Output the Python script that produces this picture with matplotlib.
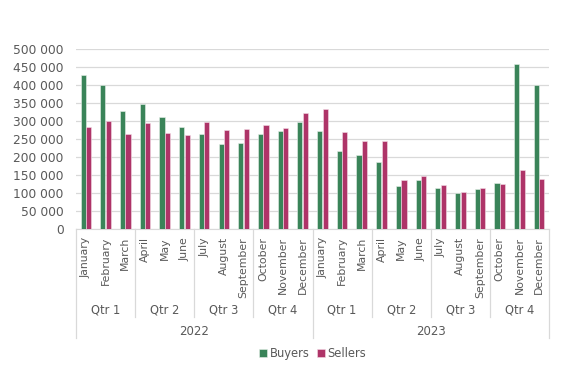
import numpy as np
import matplotlib
matplotlib.use('Agg')
import matplotlib.pyplot as plt
import matplotlib.transforms as mtransforms
from matplotlib.ticker import FuncFormatter

months = ['January', 'February', 'March', 'April', 'May', 'June',
          'July', 'August', 'September', 'October', 'November', 'December']
quarters = ['Qtr 1', 'Qtr 2', 'Qtr 3', 'Qtr 4']
years = ['2022', '2023']

buyers = [427000, 400000, 327000, 347000, 310000, 283000,
          264000, 237000, 239000, 265000, 273000, 296000,
          272000, 218000, 205000, 186000, 119000, 135000,
          114000, 100000, 110000, 128000, 458000, 400000]
sellers = [284000, 300000, 265000, 294000, 266000, 262000,
           296000, 274000, 279000, 290000, 280000, 322000,
           334000, 270000, 244000, 245000, 136000, 148000,
           121000, 103000, 113000, 125000, 164000, 140000]

green = '#3a8459'
pink = '#ae3468'
grey_txt = '#595959'
grey_line = '#d9d9d9'

plt.rcParams['font.family'] = ['DejaVu Sans']

fig = plt.figure(figsize=(5.79, 3.71), dpi=100)
ax = fig.add_axes([0.1313, 0.3827, 0.8169, 0.4853])

x = np.arange(len(buyers))
w = 0.26
ax.bar(x - 0.14, buyers, w, color=green, edgecolor='#e8f0ea', linewidth=0.4, zorder=3, label='Buyers')
ax.bar(x + 0.14, sellers, w, color=pink, edgecolor='#f3dde7', linewidth=0.4, zorder=3, label='Sellers')

ax.set_xlim(-0.5, len(buyers) - 0.5)
ax.set_ylim(0, 500000)
ax.set_yticks(np.arange(0, 500001, 50000))
ax.yaxis.set_major_formatter(FuncFormatter(lambda v, p: '{:,}'.format(int(v)).replace(',', ' ')))
ax.tick_params(axis='y', length=0, labelsize=8.8, labelcolor=grey_txt, pad=9)
ax.set_xticks([])
ax.grid(axis='y', color=grey_line, linewidth=0.9, zorder=0)
for s in ['top', 'right', 'left']:
    ax.spines[s].set_visible(False)
ax.spines['bottom'].set_color(grey_line)

# multi-level category axis
trans = mtransforms.blended_transform_factory(ax.transData, ax.transAxes)
for i, m in enumerate(months * 2):
    ax.text(i, -0.045, m, rotation=90, ha='center', va='top', fontsize=7.8,
            color=grey_txt, transform=trans)
for q in range(8):
    ax.text(q * 3 + 1, -0.45, quarters[q % 4], ha='center', va='center', fontsize=8.3,
            color=grey_txt, transform=trans)
for yi, yr in enumerate(years):
    ax.text(yi * 12 + 5.5, -0.567, yr, ha='center', va='center', fontsize=8.5,
            color=grey_txt, transform=trans)
for k in range(9):
    xs = k * 3 - 0.5
    bottom = -0.606 if k % 4 == 0 else -0.489
    ax.plot([xs, xs], [0, bottom], color=grey_line, linewidth=0.9,
            transform=trans, clip_on=False)

ax.legend(loc='center', bbox_to_anchor=(0.5, -0.694), ncol=2, frameon=False,
          fontsize=8.3, handlelength=0.7, handleheight=0.7, handletextpad=0.2,
          columnspacing=0.6, labelcolor=grey_txt)

fig.savefig('out.png', dpi=100)
